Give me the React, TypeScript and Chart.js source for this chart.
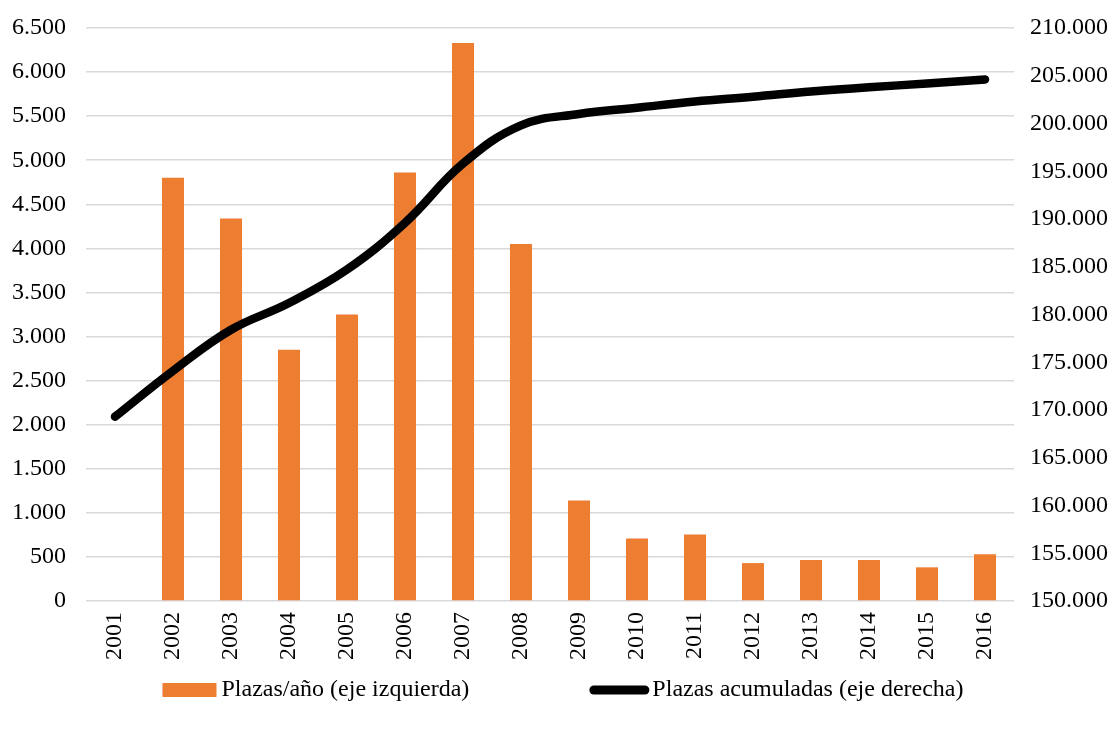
import React, { useEffect, useRef } from 'react';
import { Chart, registerables } from 'chart.js';

Chart.register(...registerables);

const years = ['2001', '2002', '2003', '2004', '2005', '2006', '2007', '2008', '2009', '2010', '2011', '2012', '2013', '2014', '2015', '2016'];
const plazasAnio = [0, 4800, 4340, 2850, 3250, 4860, 6330, 4050, 1140, 710, 755, 430, 465, 465, 382, 530];
const plazasAcumuladas = [169300, 174100, 178400, 181200, 184700, 189600, 195800, 199800, 201000, 201650, 202300, 202800, 203350, 203800, 204180, 204600];
const barLabel = 'Plazas/año (eje izquierda)';
const lineLabel = 'Plazas acumuladas (eje derecha)';

const fmt = (v: number) => String(v).replace(/\B(?=(\d{3})+(?!\d))/g, '.');

const FONT = 'Liberation Serif, Times New Roman, serif';
const ORANGE = '#ED7D31';

const legendPlugin = {
  id: 'customLegend',
  afterDraw(chart: any) {
    const ctx = chart.ctx as CanvasRenderingContext2D;
    ctx.save();
    ctx.font = `24px ${FONT}`;
    ctx.textBaseline = 'middle';
    ctx.textAlign = 'left';
    const w1 = ctx.measureText(barLabel).width;
    const w2 = ctx.measureText(lineLabel).width;
    const boxW = 54, gap1 = 5, between = 120, lineW = 60, gap2 = 3;
    const total = boxW + gap1 + w1 + between + lineW + gap2 + w2;
    const cy = 690;
    let x = chart.width / 2 + 6 - total / 2;
    ctx.fillStyle = ORANGE;
    ctx.fillRect(x, cy - 7, boxW, 14);
    x += boxW + gap1;
    ctx.fillStyle = '#000';
    ctx.fillText(barLabel, x, cy);
    x += w1 + between;
    ctx.strokeStyle = '#000';
    ctx.lineWidth = 9;
    ctx.lineCap = 'round';
    ctx.beginPath();
    ctx.moveTo(x + 4.5, cy);
    ctx.lineTo(x + lineW - 4.5, cy);
    ctx.stroke();
    x += lineW + gap2;
    ctx.fillText(lineLabel, x, cy);
    ctx.restore();
  },
};

export default function App() {
  const ref = useRef<HTMLCanvasElement | null>(null);
  useEffect(() => {
    if (!ref.current) return;
    const chart = new Chart(ref.current, {
      type: 'bar',
      data: {
        labels: years,
        datasets: [
          {
            type: 'line',
            label: lineLabel,
            data: plazasAcumuladas,
            yAxisID: 'y1',
            borderColor: '#000000',
            backgroundColor: '#000000',
            borderWidth: 8.5,
            borderCapStyle: 'round',
            borderJoinStyle: 'round',
            pointRadius: 0,
            pointHoverRadius: 0,
            tension: 0.4,
            fill: false,
            order: 0,
          } as any,
          {
            type: 'bar',
            label: barLabel,
            data: plazasAnio,
            yAxisID: 'y',
            backgroundColor: ORANGE,
            borderWidth: 0,
            categoryPercentage: 1,
            barPercentage: 0.38,
            order: 1,
          } as any,
        ],
      },
      options: {
        responsive: false,
        animation: false,
        layout: { padding: { top: 28, bottom: 61, left: 0, right: 0 } },
        plugins: {
          tooltip: { enabled: false },
          legend: { display: false },
        },
        scales: {
          x: {
            grid: { display: false, drawTicks: false },
            border: { display: false },
            ticks: {
              color: '#000',
              font: { family: FONT, size: 24 },
              minRotation: 90,
              maxRotation: 90,
              autoSkip: false,
              padding: 11,
            },
            afterFit: (s: any) => {
              s.height = 67;
            },
          },
          y: {
            position: 'left',
            min: 0,
            max: 6500,
            grid: { color: '#D9D9D9', lineWidth: 1.5, drawTicks: false },
            border: { display: false },
            ticks: {
              stepSize: 500,
              color: '#000',
              font: { family: FONT, size: 24 },
              padding: 20,
              callback: (v: any) => fmt(Number(v)),
            },
            afterFit: (s: any) => {
              s.width = 86;
              s.paddingTop = 10;
              s.paddingBottom = 10;
            },
          },
          y1: {
            position: 'right',
            min: 150000,
            max: 210000,
            grid: { display: false, drawTicks: false },
            border: { display: false },
            ticks: {
              stepSize: 5000,
              color: '#000',
              font: { family: FONT, size: 24 },
              padding: 16,
              callback: (v: any) => fmt(Number(v)),
            },
            afterFit: (s: any) => {
              s.width = 100;
              s.paddingTop = 10;
              s.paddingBottom = 10;
            },
          },
        },
      },
      plugins: [legendPlugin],
    });
    return () => chart.destroy();
  }, []);
  return (
    <div style={{ position: 'absolute', left: 0, top: 0, width: 1114, height: 729, background: '#fff' }}>
      <canvas ref={ref} width={1114} height={729} />
    </div>
  );
}
